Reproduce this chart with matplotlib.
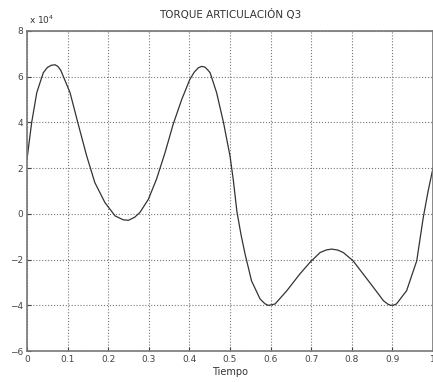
import numpy as np
import matplotlib
matplotlib.use("Agg")
from matplotlib import pyplot as plt

# torque values (units of 1e4)
tiempo = [0.0, 0.0115, 0.024, 0.04, 0.05, 0.06, 0.069, 0.076, 0.083, 0.089,
          0.106, 0.126, 0.147, 0.167, 0.192, 0.217, 0.237, 0.25, 0.265, 0.278,
          0.299, 0.319, 0.34, 0.36, 0.381, 0.401, 0.412, 0.422, 0.43, 0.438,
          0.445, 0.451, 0.467, 0.484, 0.5, 0.508, 0.517, 0.527, 0.537, 0.553,
          0.574, 0.586, 0.594, 0.602, 0.611, 0.64, 0.672, 0.697, 0.722, 0.737,
          0.75, 0.765, 0.779, 0.803, 0.828, 0.853, 0.878, 0.889, 0.896, 0.903,
          0.91, 0.935, 0.96, 0.976, 0.988, 1.0]
torque = [2.4, 4.0, 5.3, 6.17, 6.4, 6.5, 6.52, 6.45, 6.28, 6.03,
          5.3, 3.93, 2.53, 1.37, 0.49, -0.09, -0.26, -0.28, -0.15, 0.06,
          0.64, 1.52, 2.68, 3.92, 5.0, 5.88, 6.2, 6.39, 6.45, 6.42,
          6.3, 6.17, 5.3, 3.99, 2.53, 1.5, 0.1, -0.9, -1.75, -2.93,
          -3.72, -3.93, -4.0, -3.98, -3.94, -3.36, -2.63, -2.12, -1.69, -1.58,
          -1.54, -1.58, -1.69, -2.05, -2.63, -3.21, -3.8, -3.95, -4.0, -3.99,
          -3.94, -3.36, -2.05, -0.16, 1.0, 2.0]

xticks = [0, 0.1, 0.2, 0.3, 0.4, 0.5, 0.6, 0.7, 0.8, 0.9, 1]
xticklabels = ["0", "0.1", "0.2", "0.3", "0.4", "0.5", "0.6", "0.7", "0.8", "0.9", "1"]
yticks = [-6, -4, -2, 0, 2, 4, 6, 8]

fig = plt.figure(figsize=(4.33, 3.82), dpi=100)
ax = fig.add_axes([0.0624, 0.081, 0.9376, 0.838])
ax.plot(tiempo, torque, color="#333333", linewidth=0.9)

ax.set_xlim(0, 1)
ax.set_ylim(-6, 8)
ax.set_xticks(xticks)
ax.set_xticklabels(xticklabels)
ax.set_yticks(yticks)
ax.tick_params(direction="in", length=3, labelsize=6.5, colors="#444444", pad=3)
ax.grid(True, linestyle=":", color="#777777", linewidth=0.8)
for s in ax.spines.values():
    s.set_color("#777777")
    s.set_linewidth(1.2)

ax.set_title("TORQUE ARTICULACIÓN Q3", fontsize=7.5, color="#333333", pad=9)
ax.set_xlabel("Tiempo", fontsize=7, color="#333333", labelpad=2)
ax.text(0.005, 1.015, r"x 10$^4$", transform=ax.transAxes, fontsize=6.5,
        color="#333333", va="bottom", ha="left")

fig.savefig("out.png", dpi=100)
